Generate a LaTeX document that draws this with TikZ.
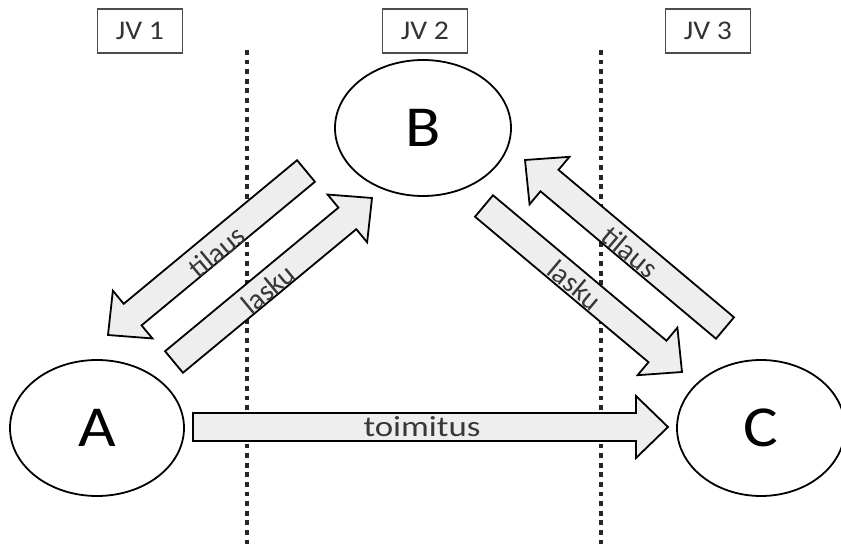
\documentclass[tikz,border=0pt]{standalone}
\usepackage{fontspec}
\setmainfont{Carlito}
\usetikzlibrary{calc,shapes.geometric}
\tikzset{
  party/.style={draw=black, line width=1.8pt, ellipse, inner sep=0pt, font=\fontsize{58}{60}\selectfont},
  jvbox/.style={draw=black!70, line width=1.3pt, minimum width=85pt, minimum height=44pt, inner sep=0pt, text=black!80, font=\fontsize{27}{28}\selectfont},
  divider/.style={line width=4.5pt, dash pattern=on 4.8pt off 4.8pt, black!85},
  blockarrow/.style={draw=black, line width=1.8pt, fill=gray!13, line join=miter},
  arrowlabel/.style={text=black!78, inner sep=0pt, font=\fontsize{29}{31}\selectfont}
}
% #1 tail coordinate, #2 tip coordinate
\newcommand\blkarrow[2]{%
  \coordinate (#1-hb) at ($(#2)!32pt!(#1)$);
  \draw[blockarrow] ($(#1)!14pt!90:(#2)$) -- ($(#1-hb)!14pt!90:(#2)$) -- ($(#1-hb)!31pt!90:(#2)$)
    -- (#2) -- ($(#1-hb)!31pt!-90:(#2)$) -- ($(#1-hb)!14pt!-90:(#2)$) -- ($(#1)!14pt!-90:(#2)$) -- cycle;
}
\begin{document}
\begin{tikzpicture}[x=1pt,y=-1pt]
\useasboundingbox (0,0) rectangle (841,545);
% dividers
\coordinate (d1t) at (247,50); \coordinate (d1b) at (247,545);
\coordinate (d2t) at (601,50); \coordinate (d2b) at (601,545);
\draw[divider] (d1t) -- (d1b);
\draw[divider] (d2t) -- (d2b);
% JV boxes
\node[jvbox] (jv1) at (140,31) {\scalebox{1.1}[1]{JV 1}};
\node[jvbox] (jv2) at (425,31) {\scalebox{1.1}[1]{JV 2}};
\node[jvbox] (jv3) at (708,31) {\scalebox{1.1}[1]{JV 3}};
% parties
\node[party, fill=white, minimum width=174pt, minimum height=136pt] (A) at (97,428) {\scalebox{1.12}[1]{A}};
\node[party, fill=white, minimum width=176pt, minimum height=136pt] (B) at (423,128) {\scalebox{1.12}[1]{B}};
\node[party, fill=white, minimum width=168pt, minimum height=136pt] (C) at (761,428) {\scalebox{1.12}[1]{C}};
% arrow end points
\coordinate (t1) at (306,171); \coordinate (t1tip) at (108,335);
\coordinate (l1) at (174,362); \coordinate (l1tip) at (372,198);
\coordinate (l2) at (484,206); \coordinate (l2tip) at (682,372);
\coordinate (t2) at (725,328); \coordinate (t2tip) at (525,160);
\coordinate (tm) at (193,427); \coordinate (tmtip) at (668,427);
\blkarrow{t1}{t1tip}
\blkarrow{l1}{l1tip}
\blkarrow{l2}{l2tip}
\blkarrow{t2}{t2tip}
\blkarrow{tm}{tmtip}
% labels
\node[arrowlabel, rotate=39.6] (lt1) at (217,252) {tilaus};
\node[arrowlabel, rotate=39.6] (ll1) at (268,289) {lasku};
\node[arrowlabel, rotate=-40] (lt2) at (630,252) {tilaus};
\node[arrowlabel, rotate=-40] (ll2) at (575,285) {lasku};
\node[arrowlabel] (ltm) at (422,427) {\scalebox{1.2}[1]{toimitus}};
\end{tikzpicture}
\end{document}
